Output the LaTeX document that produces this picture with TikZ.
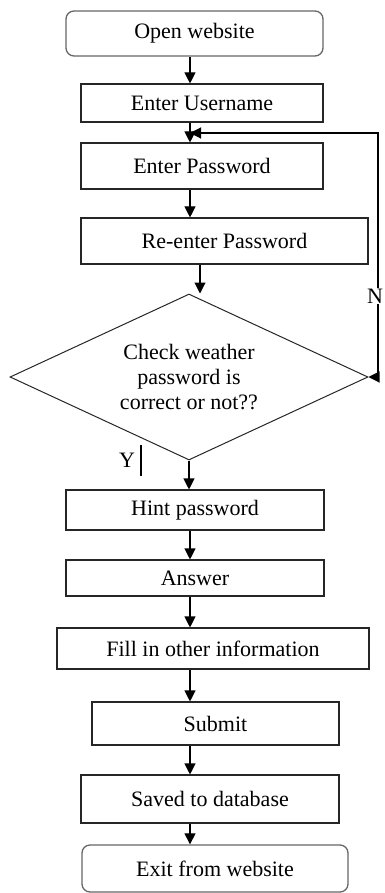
\documentclass[tikz,border=0pt]{standalone}
\usepackage{fontspec}
\setmainfont{Liberation Serif}
\usetikzlibrary{arrows.meta,shapes.geometric}
\begin{document}
\begin{tikzpicture}[x=1pt,y=-1pt,
  every node/.style={font=\fontsize{22}{25}\selectfont, inner sep=0pt},
  stepbox/.style={draw=black!85, line width=1.1pt, rectangle, minimum width=#1},
  termbox/.style={draw=black!60, line width=1.3pt, rectangle, rounded corners=8pt, minimum width=#1},
  decision/.style={draw=black!85, line width=1pt, diamond, aspect=2.16,
    minimum width=358pt, minimum height=166pt, align=center},
  tip/.style={Triangle[length=11pt,width=11pt]},
  arr/.style={line width=1.1pt, -{Triangle[length=11pt,width=11pt]}},
  link/.style={line width=1.1pt}]
\useasboundingbox (0,0) rectangle (384,893);

\coordinate (ax) at (190,0);
\coordinate (bx) at (200,0);

\node[termbox=257pt, minimum height=45pt] (open)   at (194.5,33.5) {Open website};
\node[stepbox=242pt, minimum height=38pt] (user)   at (202,103)    {Enter Username};
\node[stepbox=242pt, minimum height=46pt] (pass)   at (202,166)    {Enter Password};
\node[stepbox=287pt, minimum height=46pt] (repass) at (224.5,241)  {Re-enter Password};
\node[decision] (dec) at (189,377) {Check weather\\password is\\correct or not??};
\node[stepbox=258pt, minimum height=40pt] (hint)   at (195,510)    {Hint password};
\node[stepbox=258pt, minimum height=36pt] (answer) at (195,578)    {Answer};
\node[stepbox=312pt, minimum height=41pt] (fill)   at (213,648.5)  {Fill in other information};
\node[stepbox=247pt, minimum height=43pt] (submit) at (215.5,723.5){Submit};
\node[stepbox=258pt, minimum height=48pt] (saved)  at (210,799)    {Saved to database};
\node[termbox=266pt, minimum height=47pt] (exit)   at (215,868.5)  {Exit from website};

% main flow
\draw[arr] (open.south -| ax)   -- (user.north -| ax);
\draw[arr] (user.south -| ax)   -- (pass.north -| ax);
\draw[arr] (pass.south -| ax)   -- (repass.north -| ax);
\draw[arr] (repass.south -| bx) -- (dec.north -| bx);
\draw[arr] (dec.south)          -- (hint.north -| dec.south);
\draw[arr] (hint.south -| ax)   -- (answer.north -| ax);
\draw[arr] (answer.south -| ax) -- (fill.north -| ax);
\draw[arr] (fill.south -| ax)   -- (submit.north -| ax);
\draw[arr] (submit.south -| ax) -- (saved.north -| ax);
\draw[arr] (saved.south -| ax)  -- (exit.north -| ax);

% "No" branch back to the password entry
\coordinate (nr) at (378,133);
\coordinate (nl) at (190,133);
\draw[link, {Triangle[length=11pt,width=11pt]}-{Triangle[length=11pt,width=11pt]}]
  (dec.east) -| (nr) -- (nl);
\node[fill=white, inner sep=1pt] (no) at (375,296) {N};

% "Yes" label
\node (yes) at (127,460) {Y};
\draw[line width=1.6pt] (141,445) -- (141,476);
\end{tikzpicture}
\end{document}
